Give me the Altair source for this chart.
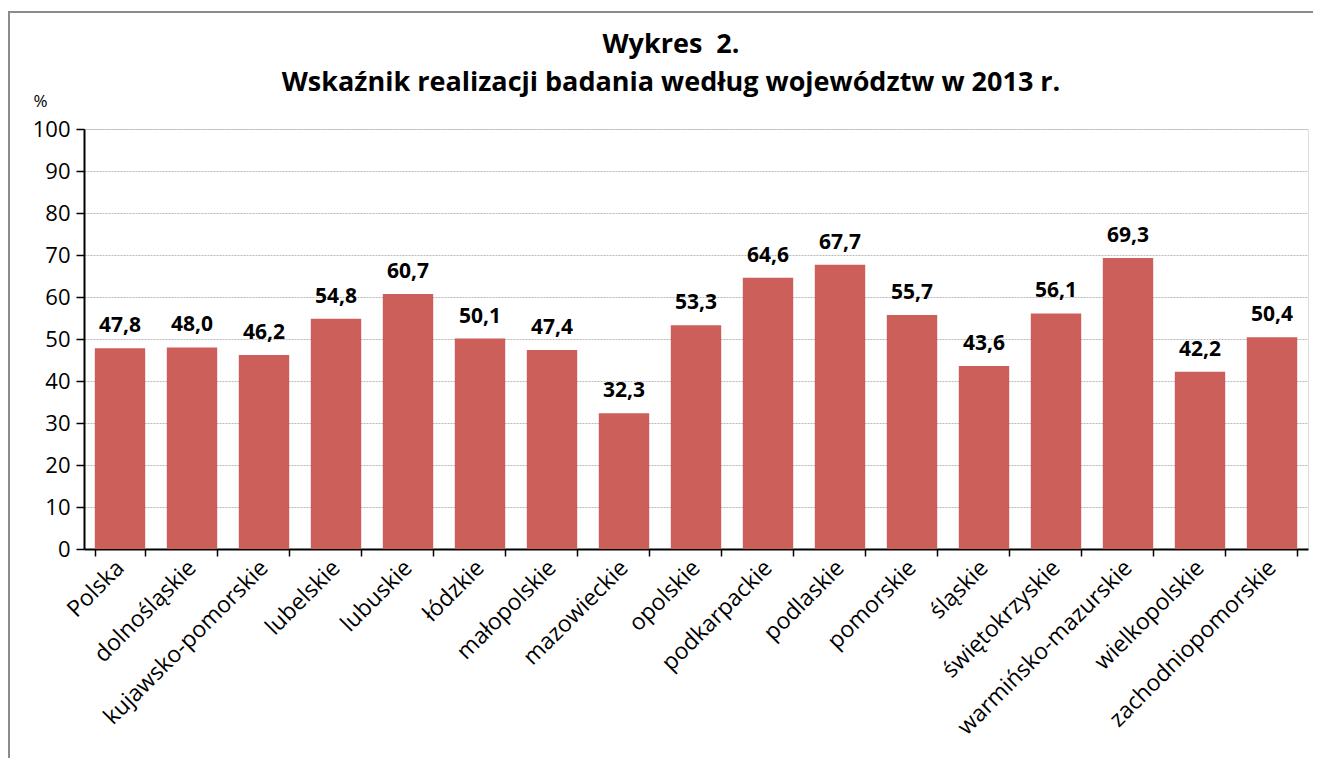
import altair as alt
import pandas as pd

categories = ["Polska", "dolnośląskie", "kujawsko-pomorskie", "lubelskie", "lubuskie",
              "łódzkie", "małopolskie", "mazowieckie", "opolskie", "podkarpackie",
              "podlaskie", "pomorskie", "śląskie", "świętokrzyskie", "warmińsko-mazurskie",
              "wielkopolskie", "zachodniopomorskie"]
values = [47.8, 48.0, 46.2, 54.8, 60.7, 50.1, 47.4, 32.3, 53.3, 64.6, 67.7, 55.7,
          43.6, 56.1, 69.3, 42.2, 50.4]
y_ticks = [0, 10, 20, 30, 40, 50, 60, 70, 80, 90, 100]

df = pd.DataFrame({"cat": categories, "val": values})
df["lab"] = [f"{v:.1f}".replace(".", ",") for v in values]

FONT = "Open Sans"
W, H = 1224, 420

x = alt.X("cat:N", sort=categories, title=None,
          scale=alt.Scale(paddingInner=0.3, paddingOuter=0.15),
          axis=alt.Axis(labelAngle=-45, labelAlign="right", labelBaseline="middle",
                        labelFontSize=23, labelColor="black", labelFont=FONT, labelLimit=0,
                        labelPadding=8, tickBand="extent", tickColor="black",
                        tickSize=7, tickWidth=1.5, domainColor="black", domainWidth=2,
                        grid=False))
y = alt.Y("val:Q", title="%",
          scale=alt.Scale(domain=[0, 100], nice=False),
          axis=alt.Axis(values=y_ticks, labelFontSize=22, labelColor="black", labelFont=FONT,
                        labelPadding=6, tickColor="black", tickSize=8, tickWidth=1.5,
                        domainColor="black", domainWidth=2,
                        grid=True, gridColor="#b8b8b8", gridDash=[2, 1], gridWidth=1,
                        titleAngle=0, titleX=-44, titleY=-28, titleAlign="center",
                        titleBaseline="middle", titleFontSize=17, titleFont=FONT,
                        titleFontWeight="normal", titleColor="black"))

bars = alt.Chart(df).mark_bar(color="#CD5F5B").encode(x=x, y=y)
labels = alt.Chart(df).mark_text(baseline="bottom", dy=-12, fontSize=21, fontWeight="bold",
                                 font=FONT, color="black").encode(
    x=alt.X("cat:N", sort=categories), y="val:Q", text="lab:N")

border = alt.Chart(pd.DataFrame({"a": [0]})).mark_rect(
    fill=None, stroke="#8c8c8c", strokeWidth=2).encode(
    x=alt.value(-75), x2=alt.value(1234), y=alt.value(-117), y2=alt.value(800))

chart = alt.layer(border, bars, labels).properties(
    width=W, height=H,
    title=alt.TitleParams(["Wykres\u00a0\u00a02.", "Wskaźnik realizacji badania według województw w 2013 r."],
                          font=FONT, fontSize=27, fontWeight="bold", color="black",
                          anchor="middle", dx=-25, offset=0, dy=86, lineHeight=38),
    autosize=alt.AutoSizeParams(type="none"),
    padding={"left": 76, "top": 121, "right": 5, "bottom": 220},
).configure_view(stroke=None).configure(background="white")

chart.save("out.html", embed_options={"renderer": "svg", "actions": False})
